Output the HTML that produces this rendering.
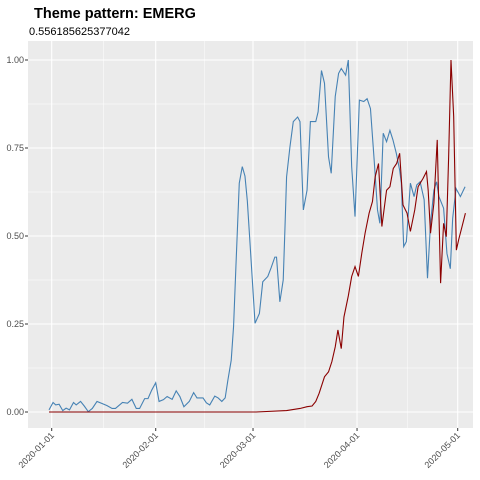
<!DOCTYPE html>
<html><head><meta charset="utf-8"><style>
body{margin:0;background:#fff;font-family:"Liberation Sans",sans-serif}
svg{display:block}
</style></head><body>
<svg width="480" height="480" xmlns="http://www.w3.org/2000/svg">
<text x="34" y="18" font-size="14.5" font-weight="bold" fill="#000">Theme pattern: EMERG</text>
<text x="29" y="35" font-size="11" fill="#000">0.556185625377042</text>
<rect x="28" y="41" width="445" height="387" fill="#ebebeb"/>
<g id="grid"></g><g id="axes"></g><g id="series"></g>
</svg>
<script>
const yTicks=[0,0.25,0.5,0.75,1];
const yTickLabels=["0.00","0.25","0.50","0.75","1.00"];
const xTicks=[0,31,60,91,121];
const xTickLabels=["2020-01-01","2020-02-01","2020-03-01","2020-04-01","2020-05-01"];
const blueDays=[-0.8,0.4,1.2,2.2,3.3,4.3,5.3,6.5,7.3,8.6,9.7,10.9,12.1,13.5,15,16.5,18,19,21.1,22.6,23.9,25.2,26.2,27.7,28.7,29.8,31,32,33.3,34.4,35.9,37.1,38.2,39.4,41,42.3,43.3,45.1,46.1,47.1,48.6,49.6,50.7,51.7,52.5,53.5,54.2,54.9,55.5,55.9,56.8,57.6,58.3,59.3,60.6,61.9,62.9,64.4,65.4,66.5,67,68,69,69.5,70,71,72,73.3,74,75,76.1,77.1,78.7,79.4,80.4,81.3,82.5,83.3,84.5,85.5,86.3,87.6,88.4,89.4,90.4,91.7,93,94,95,96.1,97.1,97.8,98.8,99.8,100.8,101.7,102.7,103.7,104.2,104.9,105.7,106.9,108,108.8,109.8,111,112,112.9,113.9,114.7,115.4,116.8,117.8,118.8,119.5,120.5,121,121.8,123.2];
const blueValues=[0.006,0.027,0.02,0.022,0.004,0.011,0.006,0.027,0.02,0.03,0.017,0.001,0.01,0.03,0.024,0.018,0.01,0.01,0.027,0.025,0.036,0.01,0.01,0.038,0.038,0.062,0.083,0.03,0.035,0.044,0.036,0.06,0.044,0.015,0.03,0.055,0.04,0.04,0.026,0.02,0.045,0.04,0.03,0.04,0.09,0.147,0.243,0.413,0.555,0.65,0.697,0.67,0.6,0.45,0.252,0.28,0.37,0.385,0.41,0.44,0.44,0.313,0.375,0.517,0.668,0.753,0.825,0.838,0.825,0.574,0.63,0.825,0.825,0.853,0.97,0.934,0.725,0.678,0.896,0.962,0.976,0.957,1.0,0.697,0.555,0.886,0.882,0.89,0.862,0.716,0.574,0.536,0.792,0.768,0.8,0.773,0.735,0.687,0.65,0.47,0.484,0.65,0.612,0.645,0.654,0.603,0.38,0.536,0.63,0.654,0.612,0.579,0.45,0.407,0.55,0.635,0.626,0.612,0.64];
const redDays=[-0.8,60.9,70,74,76.1,77.6,78.7,79.7,81.3,82.5,83.5,84.5,85.3,86.3,87.1,88.4,89.4,90.4,91.4,92.4,93.4,94.6,95.6,96.4,97.4,98.4,99.8,100.8,101.8,102.8,103.7,104.7,105.9,106.9,108.2,109.2,110.7,111.7,112.2,112.9,113.9,114.9,115.9,116.8,117.6,118.3,119,119.8,120.6,121.3,122.3,123.3];
const redValues=[0,0,0.004,0.01,0.015,0.017,0.03,0.053,0.1,0.114,0.143,0.185,0.233,0.18,0.27,0.33,0.385,0.413,0.385,0.45,0.508,0.565,0.598,0.668,0.706,0.527,0.63,0.64,0.692,0.706,0.735,0.588,0.565,0.513,0.574,0.64,0.664,0.683,0.63,0.508,0.593,0.773,0.366,0.536,0.498,0.725,1.0,0.84,0.46,0.49,0.527,0.565];
const NS="http://www.w3.org/2000/svg";
const X=d=>51.7+d*(406/121);
const Y=v=>412-v*352;
const L=28,R=473,T=41,B=428;
function mk(t,a,p){const e=document.createElementNS(NS,t);for(const k in a)e.setAttribute(k,a[k]);p.appendChild(e);return e;}
const grid=document.getElementById('grid'),axes=document.getElementById('axes'),series=document.getElementById('series');
for(let i=0;i<yTicks.length-1;i++){const v=(yTicks[i]+yTicks[i+1])/2;
 const l=mk('line',{x1:L,x2:R,y1:Y(v),y2:Y(v),stroke:'#fff','stroke-width':0.5},grid);
 
 }
for(let i=0;i<xTicks.length-1;i++){const d=(xTicks[i]+xTicks[i+1])/2;
 const l=mk('line',{x1:X(d),x2:X(d),y1:T,y2:B,stroke:'#fff','stroke-width':0.5},grid);
 
 }
yTicks.forEach((v,i)=>{
 const l=mk('line',{x1:L,x2:R,y1:Y(v),y2:Y(v),stroke:'#fff','stroke-width':1.1},grid);
 
 
 const tk=mk('line',{x1:25,x2:L,y1:Y(v),y2:Y(v),stroke:'#333','stroke-width':1},axes);
 
 
 const t=mk('text',{x:24,y:Y(v)+3,'font-size':9,'text-anchor':'end',fill:'#4d4d4d'},axes);
 t.textContent=yTickLabels[i];
 
 
});
xTicks.forEach((d,i)=>{
 const l=mk('line',{x1:X(d),x2:X(d),y1:T,y2:B,stroke:'#fff','stroke-width':1.1},grid);
 
 
 const tk=mk('line',{x1:X(d),x2:X(d),y1:B,y2:B+3,stroke:'#333','stroke-width':1},axes);
 
 
 const t=mk('text',{x:X(d)+3,y:436,'font-size':9,'text-anchor':'end',fill:'#4d4d4d',transform:`rotate(-45 ${X(d)+3} 436)`},axes);
 t.textContent=xTickLabels[i];
 
 
});
function line(days,vals,col,name){
 const p=mk('polyline',{points:days.map((d,i)=>X(d)+','+Y(vals[i])).join(' '),fill:'none',stroke:col,'stroke-width':1.1},series);
 
 
}
line(blueDays,blueValues,'#4682b4','series-blue-line');
line(redDays,redValues,'#8b0000','series-red-line');
</script>
</body></html>
